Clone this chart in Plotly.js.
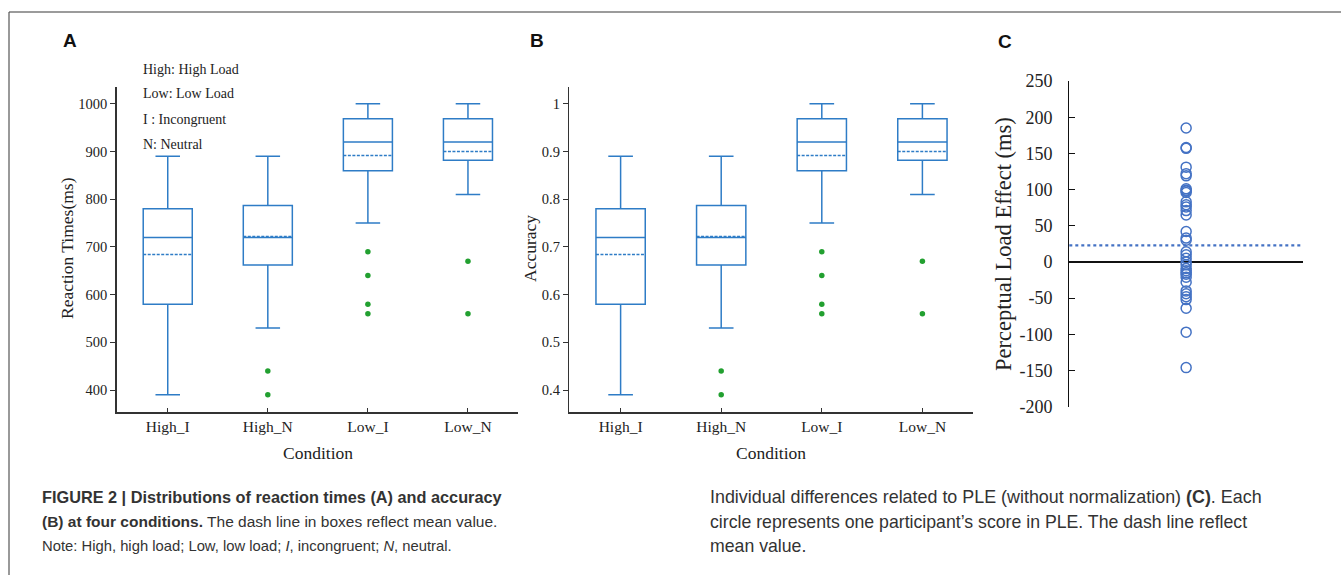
<!DOCTYPE html>
<html>
<head>
<meta charset="utf-8">
<script src="https://cdn.plot.ly/plotly-3.0.1.min.js"></script>
<style>
html,body{margin:0;padding:0;background:#fff;}
#chart{width:1341px;height:575px;}
</style>
</head>
<body>
<div id="chart"></div>
<script>
// ---------- Data ----------
const conditions = ['High_I', 'High_N', 'Low_I', 'Low_N'];

// Panel A: reaction times (ms)
const rtLower  = [390, 530, 750, 810];
const rtQ1     = [580, 662, 860, 882];
const rtMedian = [720, 720, 920, 920];
const rtMean   = [684, 722, 892, 900];
const rtQ3     = [780, 787, 969, 969];
const rtUpper  = [890, 890, 1000, 1000];
const rtOutlierCond  = ['High_N', 'High_N', 'Low_I', 'Low_I', 'Low_I', 'Low_I', 'Low_N', 'Low_N'];
const rtOutlierValue = [440, 390, 690, 640, 580, 560, 670, 560];

// Panel B: accuracy
const accLower  = [0.39, 0.53, 0.75, 0.81];
const accQ1     = [0.58, 0.662, 0.86, 0.882];
const accMedian = [0.72, 0.72, 0.92, 0.92];
const accMean   = [0.684, 0.722, 0.892, 0.90];
const accQ3     = [0.78, 0.787, 0.969, 0.969];
const accUpper  = [0.89, 0.89, 1.0, 1.0];
const accOutlierCond  = ['High_N', 'High_N', 'Low_I', 'Low_I', 'Low_I', 'Low_I', 'Low_N', 'Low_N'];
const accOutlierValue = [0.44, 0.39, 0.69, 0.64, 0.58, 0.56, 0.67, 0.56];

// Panel C: perceptual load effect per participant (ms)
const pleScores = [185, 158, 157, 131, 122, 119, 101, 99, 98, 96, 83, 79, 76, 71, 65,
                   42, 33, 30, 14, 10, 5, 0, -4, -9, -12, -15, -17, -21, -28,
                   -40, -44, -48, -52, -64, -97, -146];
const pleMean = 23;

const rtTicks  = [400, 500, 600, 700, 800, 900, 1000];
const accTicks = [0.4, 0.5, 0.6, 0.7, 0.8, 0.9, 1];
const pleTicks = [-200, -150, -100, -50, 0, 50, 100, 150, 200, 250];
const pleTickLabels = ['-200', '-150', '-100', '-50', '0', '50', '100', '150', '200', '250'];
const legendLines = ['High: High Load', 'Low: Low Load', 'I : Incongruent', 'N: Neutral'];

// ---------- Styles ----------
const W = 1341, H = 575;
const px = v => v / W;
const py = v => 1 - v / H;
const boxBlue = '#2e7cc6';
const outGreen = '#22a030';
const pleBlue = '#4472c4';
const serif = 'Liberation Serif, Times New Roman, serif';
const sans = 'Liberation Sans, Arial, sans-serif';

function boxTrace(q1, med, q3, lo, hi, mean, xa, ya) {
  return {
    type: 'box', x: conditions, q1: q1, median: med, q3: q3,
    lowerfence: lo, upperfence: hi, mean: mean, boxmean: true,
    width: 0.49, whiskerwidth: 0.5,
    line: {color: boxBlue, width: 1.5}, fillcolor: 'rgba(0,0,0,0)',
    xaxis: xa, yaxis: ya, hoverinfo: 'skip', boxpoints: false
  };
}
function outTrace(xs, ys, xa, ya) {
  return {
    type: 'scatter', mode: 'markers', x: xs, y: ys,
    marker: {color: outGreen, size: 5.5},
    xaxis: xa, yaxis: ya, hoverinfo: 'skip'
  };
}

const data = [
  boxTrace(rtQ1, rtMedian, rtQ3, rtLower, rtUpper, rtMean, 'x', 'y'),
  outTrace(rtOutlierCond, rtOutlierValue, 'x', 'y'),
  boxTrace(accQ1, accMedian, accQ3, accLower, accUpper, accMean, 'x2', 'y2'),
  outTrace(accOutlierCond, accOutlierValue, 'x2', 'y2'),
  {
    type: 'scatter', mode: 'markers',
    x: pleScores.map(() => 'PLE'), y: pleScores,
    marker: {symbol: 'circle-open', size: 10, color: pleBlue, line: {width: 1.5, color: pleBlue}},
    xaxis: 'x3', yaxis: 'y3', hoverinfo: 'skip'
  }
];

function xAxisAB(domain) {
  return {
    domain: domain, type: 'category', categoryorder: 'array', categoryarray: conditions,
    range: [-0.51, 3.5], showline: true, linecolor: '#333', linewidth: 1.5,
    ticks: 'inside', ticklen: 4, tickcolor: '#333', tickwidth: 1,
    showgrid: false, zeroline: false, fixedrange: true,
    tickfont: {family: serif, size: 15.5, color: '#222'}
  };
}
function yAxisAB(range, ticks, anchor) {
  return {
    domain: [py(412), py(86.7)], range: range, tickvals: ticks,
    showline: true, linecolor: '#333', linewidth: 1.5,
    ticks: 'outside', ticklen: 5, tickcolor: '#333', tickwidth: 1,
    showgrid: false, zeroline: false, anchor: anchor, fixedrange: true,
    tickfont: {family: serif, size: 14.5, color: '#222'}
  };
}

const annotations = [];
function addText(text, x, y, size, opts) {
  annotations.push(Object.assign({
    text: text, xref: 'paper', yref: 'paper', x: px(x), y: py(y),
    xanchor: 'center', yanchor: 'middle', showarrow: false,
    font: {family: serif, size: size, color: '#222'}
  }, opts || {}));
}
// panel letters
addText('<b>A</b>', 70, 40, 19, {font: {family: sans, size: 19, color: '#111'}});
addText('<b>B</b>', 537, 40, 19, {font: {family: sans, size: 19, color: '#111'}});
addText('<b>C</b>', 1005, 41, 19, {font: {family: sans, size: 19, color: '#111'}});
// legend notes in A
legendLines.forEach((t, i) => addText(t, 141, 69 + 25 * i, 14, {xanchor: 'left'}));
// axis titles
addText('Reaction Times(ms)', 67, 248, 17.5, {textangle: -90});
addText('Condition', 318, 453, 17.5);
addText('Accuracy', 530, 249, 17.5, {textangle: -90});
addText('Condition', 771, 453, 17.5);
addText('Perceptual Load Effect (ms)', 1003, 244, 22.5, {textangle: -90});
// caption
const capColor = '#333';
const capL = [
  ['<b>FIGURE 2 | Distributions of reaction times (A) and accuracy</b>', 16.3],
  ['<b>(B) at four conditions.</b> The dash line in boxes reflect mean value.', 15.5],
  ['Note: High, high load; Low, low load; <i>I</i>, incongruent; <i>N</i>, neutral.', 14.8]
];
const capR = [
  ['Individual differences related to PLE (without normalization) <b>(C)</b>. Each', 17.9],
  ['circle represents one participant\u2019s score in PLE. The dash line reflect', 17.7],
  ['mean value.', 17.7]
];
capL.forEach((c, i) => addText(c[0], 40, 497 + 24.5 * i, c[1],
  {xanchor: 'left', font: {family: sans, size: c[1], color: capColor}}));
capR.forEach((c, i) => addText(c[0], 708, 497 + 24.5 * i, c[1],
  {xanchor: 'left', font: {family: sans, size: c[1], color: capColor}}));

const layout = {
  width: W, height: H,
  margin: {l: 0, r: 0, t: 0, b: 0},
  paper_bgcolor: '#fff', plot_bgcolor: 'rgba(0,0,0,0)',
  showlegend: false,
  xaxis: xAxisAB([px(116.7), px(518)]),
  yaxis: yAxisAB([354, 1036], rtTicks, 'x'),
  xaxis2: Object.assign(xAxisAB([px(569.3), px(972.7)]), {anchor: 'y2'}),
  yaxis2: yAxisAB([0.354, 1.036], accTicks, 'x2'),
  xaxis3: {
    domain: [px(1069.3), px(1303)], anchor: 'y3', type: 'category',
    range: [-1, 1], visible: false, fixedrange: true
  },
  yaxis3: {
    domain: [py(406.7), py(81)], anchor: 'x3', range: [-200, 250],
    tickvals: pleTicks, ticktext: pleTickLabels,
    showline: true, linecolor: '#111', linewidth: 1.3,
    ticks: 'inside', ticklen: 6, tickcolor: '#111', tickwidth: 1,
    ticklabelstandoff: 12,
    showgrid: false, zeroline: true, zerolinecolor: '#111', zerolinewidth: 1.3,
    tickfont: {family: serif, size: 18, color: '#222'}, fixedrange: true
  },
  shapes: [
    {type: 'line', xref: 'x3 domain', yref: 'y3', x0: 0, x1: 0.99, y0: pleMean, y1: pleMean,
     line: {color: pleBlue, width: 2.2, dash: 'dot'}},
    {type: 'line', xref: 'paper', yref: 'paper', x0: px(9), x1: 1, y0: py(12), y1: py(12),
     line: {color: '#7a7a7a', width: 1.5}},
    {type: 'line', xref: 'paper', yref: 'paper', x0: px(9), x1: px(9), y0: 0, y1: py(12),
     line: {color: '#555', width: 1.2}}
  ],
  annotations: annotations
};

Plotly.newPlot('chart', data, layout, {displayModeBar: false, staticPlot: true});
</script>
</body>
</html>
